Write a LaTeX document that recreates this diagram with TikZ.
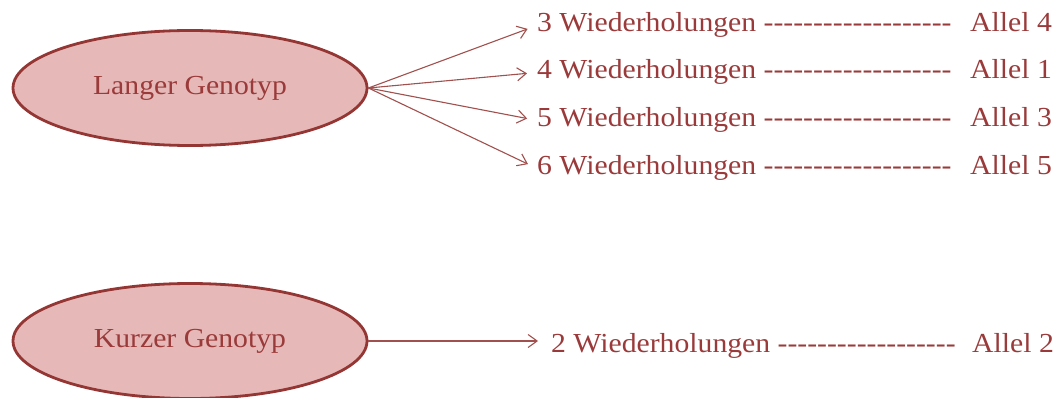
\documentclass[tikz,border=0pt]{standalone}
\usepackage{fontspec}
\setmainfont{Liberation Serif}[FakeStretch=1.08]
\usetikzlibrary{arrows.meta,shapes.geometric}
\definecolor{rimred}{HTML}{943634}
\definecolor{fillpink}{HTML}{E6B9B8}
\definecolor{inkred}{HTML}{9A3A3A}
\definecolor{arrowred}{HTML}{A0504D}
% a run of separate hyphens (kerns keep them from joining into dashes)
\newcommand\hyphenrun[1]{\foreach \k in {1,...,#1}{-\kern0pt}}
\begin{document}
\begin{tikzpicture}[x=1pt,y=-1pt,
  genotype/.style={ellipse, draw=rimred, line width=2.8pt, fill=fillpink,
    minimum width=354pt, minimum height=115pt, inner sep=0pt, text=inkred,
    font=\fontsize{27.5}{32}\selectfont},
  repeats/.style={anchor=base west, inner sep=0pt, text=inkred,
    font=\fontsize{27.5}{32}\selectfont},
  allele/.style={anchor=base west, inner sep=0pt, text=inkred,
    font=\fontsize{27.5}{32}\selectfont},
  link/.style={draw=arrowred, line width=1.1pt,
    -{Straight Barb[length=9pt,width=13pt]}}]
\useasboundingbox (0,0) rectangle (1056,398);

\node[genotype] (lang) at (190,88) {Langer Genotyp};
\node[genotype] (kurz) at (190,341) {Kurzer Genotyp};

\node[repeats] (w3) at (537,32)  {3 Wiederholungen \hyphenrun{19}};
\node[repeats] (w4) at (537,79)  {4 Wiederholungen \hyphenrun{19}};
\node[repeats] (w5) at (537,127) {5 Wiederholungen \hyphenrun{19}};
\node[repeats] (w6) at (537,175) {6 Wiederholungen \hyphenrun{19}};
\node[repeats] (w2) at (551,352) {2 Wiederholungen \hyphenrun{18}};

\node[allele] (a4) at (970,32)  {Allel 4};
\node[allele] (a1) at (970,79)  {Allel 1};
\node[allele] (a3) at (970,127) {Allel 3};
\node[allele] (a5) at (970,175) {Allel 5};
\node[allele] (a2) at (972,352) {Allel 2};

\foreach \t in {w3,w4,w5,w6}
  \draw[link, shorten >=10pt] (lang.east) -- (\t.west);
\draw[link, shorten >=13pt] (kurz.east) -- (kurz.east -| w2.west);
\end{tikzpicture}
\end{document}
